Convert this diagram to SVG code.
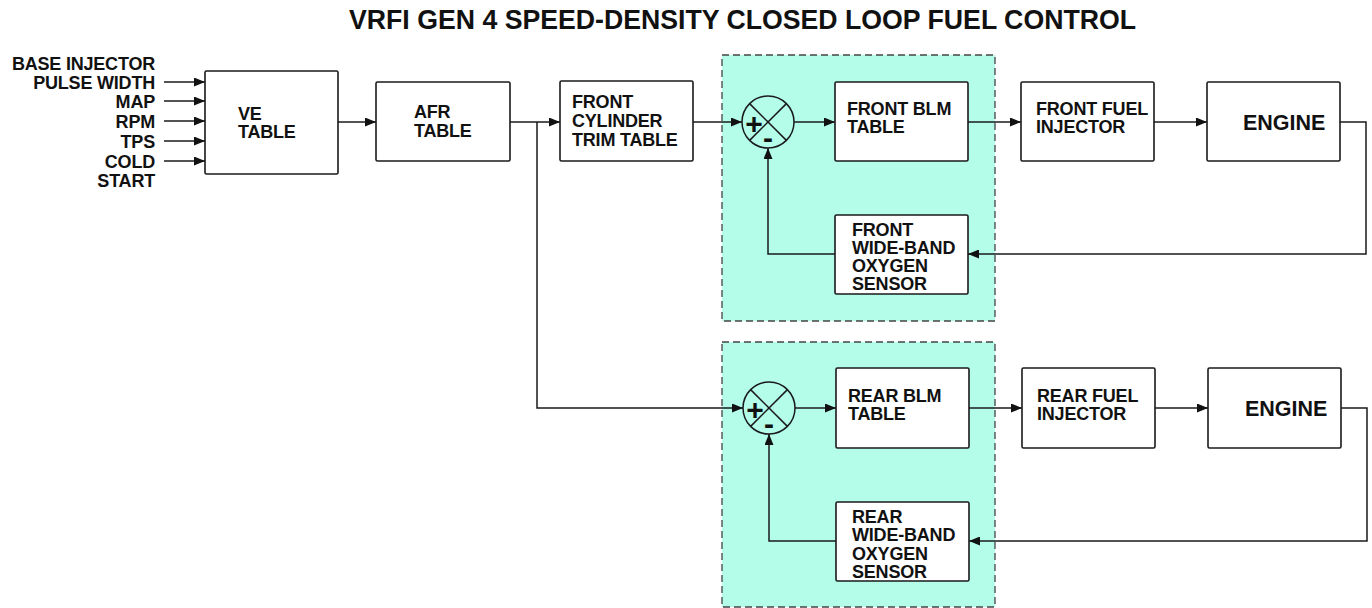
<svg xmlns="http://www.w3.org/2000/svg" width="1372" height="608" viewBox="0 0 1372 608">
<style>
  .box { fill: #ffffff; stroke: #1a1a1a; stroke-width: 1.6; }
  .grp { fill: #b3fde9; stroke: #444; stroke-width: 1.3; stroke-dasharray: 7 4; }
  .wire { fill: none; stroke: #1a1a1a; stroke-width: 1.5; }
  .arr { marker-end: url(#ah); }
  text { font-family: "Liberation Sans", Arial, sans-serif; font-weight: bold; fill: #111; }
  .lbl { font-size: 18px; letter-spacing: -0.2px; }
  .in { font-size: 18px; text-anchor: end; letter-spacing: -0.2px; }
  .eng { font-size: 21.5px; }
  .sign { font-size: 30px; text-anchor: middle; }
</style>
<defs>
  <marker id="ah" markerUnits="userSpaceOnUse" markerWidth="11" markerHeight="9" refX="11" refY="4.5" orient="auto">
    <path d="M0,0 L11,4.5 L0,9 Z" fill="#111"/>
  </marker>
</defs>
<rect width="1372" height="608" fill="#ffffff"/>
<text x="742.5" y="29" font-size="27" text-anchor="middle" textLength="787" lengthAdjust="spacingAndGlyphs">VRFI GEN 4 SPEED-DENSITY CLOSED LOOP FUEL CONTROL</text>

<g id="group-front"><rect class="grp" x="722" y="55" width="273" height="266"/></g>
<g id="group-rear"><rect class="grp" x="722" y="342" width="273" height="265"/></g>

<g id="inputs">
  <text class="in" x="155" y="70">BASE INJECTOR</text>
  <text class="in" x="155" y="89">PULSE WIDTH</text>
  <text class="in" x="155" y="108">MAP</text>
  <text class="in" x="155" y="128">RPM</text>
  <text class="in" x="155" y="148">TPS</text>
  <text class="in" x="155" y="168">COLD</text>
  <text class="in" x="155" y="187">START</text>
</g>

<g id="connectors">
  <line class="wire arr" x1="164" y1="82" x2="205" y2="82"/>
  <line class="wire arr" x1="164" y1="101" x2="205" y2="101"/>
  <line class="wire arr" x1="164" y1="121" x2="205" y2="121"/>
  <line class="wire arr" x1="164" y1="141" x2="205" y2="141"/>
  <line class="wire arr" x1="164" y1="161" x2="205" y2="161"/>
  <line class="wire arr" x1="338" y1="122" x2="376" y2="122"/>
  <line class="wire arr" x1="510" y1="122" x2="560" y2="122"/>
  <polyline class="wire arr" points="537,122 537,408 743,408"/>
  <line class="wire arr" x1="693" y1="122" x2="742" y2="122"/>
  <line class="wire arr" x1="794" y1="122" x2="835" y2="122"/>
  <line class="wire arr" x1="968" y1="122" x2="1021" y2="122"/>
  <line class="wire arr" x1="1154" y1="122" x2="1207" y2="122"/>
  <polyline class="wire arr" points="1340,122 1366,122 1366,254 968,254"/>
  <polyline class="wire arr" points="835,254 768,254 768,148"/>
  <line class="wire arr" x1="795" y1="408" x2="836" y2="408"/>
  <line class="wire arr" x1="969" y1="408" x2="1022" y2="408"/>
  <line class="wire arr" x1="1155" y1="408" x2="1208" y2="408"/>
  <polyline class="wire arr" points="1341,408 1367,408 1367,541 969,541"/>
  <polyline class="wire arr" points="836,541 769,541 769,434"/>
</g>

<g id="ve-table">
  <rect class="box" x="205" y="71" width="133" height="103" rx="1.5"/>
  <text class="lbl" x="238" y="120">VE</text>
  <text class="lbl" x="238" y="138">TABLE</text>
</g>
<g id="afr-table">
  <rect class="box" x="376" y="82" width="134" height="79" rx="1.5"/>
  <text class="lbl" x="414" y="118">AFR</text>
  <text class="lbl" x="414" y="137">TABLE</text>
</g>
<g id="trim-table">
  <rect class="box" x="560" y="81" width="133" height="80" rx="1.5"/>
  <text class="lbl" x="572" y="108">FRONT</text>
  <text class="lbl" x="572" y="127">CYLINDER</text>
  <text class="lbl" x="572" y="146">TRIM TABLE</text>
</g>

<g id="front-sum">
  <circle cx="768" cy="122" r="26" fill="none" stroke="#1a1a1a" stroke-width="1.5"/>
  <line class="wire" x1="749.6" y1="103.6" x2="786.4" y2="140.4"/>
  <line class="wire" x1="786.4" y1="103.6" x2="749.6" y2="140.4"/>
  <text class="sign" x="754" y="133.5">+</text>
  <text class="sign" x="768" y="148">-</text>
</g>
<g id="front-blm">
  <rect class="box" x="835" y="82" width="133" height="79" rx="1.5"/>
  <text class="lbl" x="847" y="115">FRONT BLM</text>
  <text class="lbl" x="847" y="133">TABLE</text>
</g>
<g id="front-sensor">
  <rect class="box" x="835" y="215" width="133" height="79" rx="1.5"/>
  <text class="lbl" x="852" y="236">FRONT</text>
  <text class="lbl" x="852" y="254">WIDE-BAND</text>
  <text class="lbl" x="852" y="272">OXYGEN</text>
  <text class="lbl" x="852" y="290">SENSOR</text>
</g>
<g id="front-injector">
  <rect class="box" x="1021" y="82" width="133" height="79" rx="1.5"/>
  <text class="lbl" x="1036" y="115">FRONT FUEL</text>
  <text class="lbl" x="1036" y="133">INJECTOR</text>
</g>
<g id="front-engine">
  <rect class="box" x="1207" y="82" width="133" height="79" rx="1.5"/>
  <text class="eng" x="1243" y="130">ENGINE</text>
</g>

<g id="rear-sum">
  <circle cx="769" cy="408" r="26" fill="none" stroke="#1a1a1a" stroke-width="1.5"/>
  <line class="wire" x1="750.6" y1="389.6" x2="787.4" y2="426.4"/>
  <line class="wire" x1="787.4" y1="389.6" x2="750.6" y2="426.4"/>
  <text class="sign" x="755" y="419.5">+</text>
  <text class="sign" x="769" y="434">-</text>
</g>
<g id="rear-blm">
  <rect class="box" x="836" y="368" width="133" height="80" rx="1.5"/>
  <text class="lbl" x="848" y="402">REAR BLM</text>
  <text class="lbl" x="848" y="420">TABLE</text>
</g>
<g id="rear-sensor">
  <rect class="box" x="836" y="502" width="133" height="79" rx="1.5"/>
  <text class="lbl" x="852" y="523">REAR</text>
  <text class="lbl" x="852" y="541">WIDE-BAND</text>
  <text class="lbl" x="852" y="560">OXYGEN</text>
  <text class="lbl" x="852" y="578">SENSOR</text>
</g>
<g id="rear-injector">
  <rect class="box" x="1022" y="368" width="133" height="80" rx="1.5"/>
  <text class="lbl" x="1037" y="402">REAR FUEL</text>
  <text class="lbl" x="1037" y="420">INJECTOR</text>
</g>
<g id="rear-engine">
  <rect class="box" x="1208" y="368" width="133" height="80" rx="1.5"/>
  <text class="eng" x="1245" y="416">ENGINE</text>
</g>
</svg>
